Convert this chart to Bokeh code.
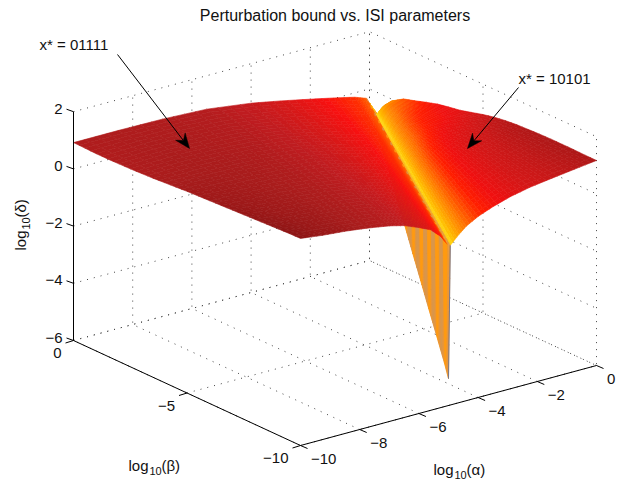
import numpy as np
from bokeh.plotting import figure
from bokeh.models import Range1d
from bokeh.core.properties import value
from bokeh.embed import file_html
from bokeh.resources import INLINE

# ---- data ----
alpha_ticks = [-10, -8, -6, -4, -2, 0]
beta_ticks = [0, -5, -10]
z_ticks = [-6, -4, -2, 0, 2]
title = "Perturbation bound vs. ISI parameters"
note_left = "x* = 01111"
note_right = "x* = 10101"

beta_rows = [0, -0.5, -1, -1.5, -2, -2.5, -3, -3.5, -4, -4.5, -5, -5.5, -6, -6.5, -7, -7.5, -8, -8.5, -9, -9.5, -10]
# columns: fraction of the way from alpha=-10 to the valley, then from the valley to alpha=0
left_frac = [0, .15, .3, .45, .6, .7, .8, .88, .95, .99]
right_frac = [.012, .07, .12, .2, .3, .42, .55, .7, .85, 1]

left_00 = [.92, .92, .90, .83, .62, .42, .20, .02, -.15, -.30]
left_05 = [.91, .93, .91, .84, .63, .43, .22, .03, -.14, -.30]
left_10 = [.90, .94, .92, .85, .64, .45, .23, .05, -.14, -.30]
left_15 = [.90, .95, .93, .85, .65, .46, .25, .06, -.13, -.31]
left_20 = [.91, .96, .93, .86, .66, .48, .26, .08, -.13, -.31]
left_25 = [.92, .97, .94, .86, .68, .49, .28, .09, -.12, -.31]
left_30 = [.94, .98, .95, .87, .69, .51, .29, .11, -.11, -.32]
left_35 = [.96, .99, .96, .88, .70, .52, .31, .12, -.11, -.32]
left_40 = [.99, 1.00, .97, .89, .71, .54, .32, .14, -.10, -.32]
left_45 = [1.02, 1.02, .98, .89, .72, .55, .34, .15, -.10, -.32]
left_50 = [1.05, 1.03, .98, .90, .73, .57, .35, .17, -.09, -.33]
left_55 = [1.07, 1.04, .99, .91, .74, .58, .37, .18, -.08, -.33]
left_60 = [1.09, 1.05, 1.00, .91, .75, .59, .38, .19, -.08, -.33]
left_65 = [1.11, 1.06, 1.01, .92, .76, .61, .40, .21, -.07, -.33]
left_70 = [1.13, 1.07, 1.02, .93, .77, .62, .41, .22, -.07, -.34]
left_75 = [1.15, 1.08, 1.03, .93, .79, .64, .43, .24, -.06, -.34]
left_80 = [1.17, 1.09, 1.04, .94, .80, .65, .44, .25, -.05, -.34]
left_85 = [1.19, 1.11, 1.05, .95, .81, .67, .46, .27, -.05, -.34]
left_90 = [1.21, 1.12, 1.05, .96, .82, .68, .47, .28, -.04, -.35]
left_95 = [1.23, 1.13, 1.06, .96, .83, .70, .49, .30, -.04, -.35]
left_100 = [1.24, 1.14, 1.07, .97, .84, .71, .50, .31, -.03, -.35]

valley = [-.5, -.72, -.95, -1.18, -1.4, -1.62, -1.85, -2.08, -2.3, -2.52, -2.75,
          -2.98, -3.2, -3.42, -3.65, -3.88, -4.1, -4.32, -4.55, -4.78, -5.06]

right_00 = [-.5, -.5, -.5, -.5, -.5, -.5, -.5, -.5, -.5, -.5]
right_05 = [-.72, -.74, -.76, -.78, -.80, -.82, -.83, -.84, -.85, -.86]
right_10 = [-.42, -.35, -.30, -.25, -.20, -.15, -.12, -.10, -.07, -.05]
right_15 = [-.42, -.30, -.22, -.13, -.05, .03, .08, .12, .16, .20]
right_20 = [-.42, -.28, -.18, -.07, .02, .11, .18, .22, .28, .32]
right_25 = [-.42, -.25, -.13, -.01, .10, .21, .28, .34, .40, .45]
right_30 = [-.42, -.23, -.09, .05, .17, .29, .38, .44, .51, .57]
right_35 = [-.42, -.22, -.07, .08, .22, .35, .45, .51, .59, .65]
right_40 = [-.42, -.20, -.04, .12, .26, .40, .50, .57, .65, .72]
right_45 = [-.42, -.18, -.01, .17, .33, .48, .59, .67, .76, .83]
right_50 = [-.42, -.16, .03, .22, .40, .56, .68, .76, .86, .94]
right_55 = [-.42, -.14, .06, .26, .45, .62, .75, .84, .94, 1.03]
right_60 = [-.42, -.13, .08, .29, .49, .67, .80, .89, 1.00, 1.09]
right_65 = [-.42, -.13, .09, .31, .51, .70, .84, .93, 1.04, 1.13]
right_70 = [-.42, -.12, .10, .32, .52, .71, .85, .95, 1.06, 1.15]
right_75 = [-.42, -.12, .10, .33, .53, .72, .87, .96, 1.07, 1.17]
right_80 = [-.42, -.12, .11, .33, .54, .73, .88, .97, 1.08, 1.18]
right_85 = [-.42, -.12, .11, .33, .54, .73, .88, .97, 1.08, 1.18]
right_90 = [-.42, -.12, .11, .33, .54, .73, .88, .97, 1.08, 1.18]
right_95 = [-.42, -.12, .10, .33, .53, .72, .87, .97, 1.07, 1.17]
right_100 = [-.42, -.12, .10, .33, .53, .72, .86, .97, 1.07, 1.17]

left_rows = [left_00, left_05, left_10, left_15, left_20, left_25, left_30, left_35, left_40, left_45, left_50,
             left_55, left_60, left_65, left_70, left_75, left_80, left_85, left_90, left_95, left_100]
right_rows = [right_00, right_05, right_10, right_15, right_20, right_25, right_30, right_35, right_40, right_45, right_50,
              right_55, right_60, right_65, right_70, right_75, right_80, right_85, right_90, right_95, right_100]

# surface colour against height, one ramp for each side of the valley
left_color_z = [-0.35, -0.15, 0.1, 0.4, 0.7, 1.0, 1.24]
left_color_rgb = [(255, 112, 0), (255, 48, 0), (248, 16, 16), (216, 24, 24), (192, 28, 32), (168, 28, 28), (140, 20, 20)]
right_color_z = [-1.0, -0.6, -0.45, -0.3, -0.1, 0.1, 0.25, 0.4, 0.6, 0.9, 1.2]
right_color_rgb = [(230, 150, 60), (255, 190, 20), (255, 225, 30), (255, 190, 0), (255, 150, 0), (255, 110, 0),
                   (255, 70, 0), (255, 30, 0), (240, 16, 16), (208, 24, 24), (170, 24, 24)]
wall_colors = ["#d8964c", "#ff9a10"]

# ---- view: page pixel of the axis box corners ----
ORIGIN = (73.0, 340.0)          # beta=0, alpha=-10, z=-6
PER_BETA = (22.7, 10.5)
PER_ALPHA = (29.6, -8.0)
PER_Z = 28.6


def proj(alpha, beta, z):
    a = np.asarray(alpha, float) + 10
    b = -np.asarray(beta, float)
    zz = np.asarray(z, float) + 6
    return (ORIGIN[0] + PER_BETA[0] * b + PER_ALPHA[0] * a,
            ORIGIN[1] + PER_BETA[1] * b + PER_ALPHA[1] * a - PER_Z * zz)


def to_hex(z, stops, rgb):
    vals = [np.interp(z, stops, [c[i] for c in rgb]) for i in range(3)]
    return "#%02x%02x%02x" % tuple(int(round(v)) for v in vals)


p = figure(width=624, height=483, output_backend="svg", toolbar_location=None,
           x_range=Range1d(0, 624), y_range=Range1d(483, 0), min_border=0, outline_line_color=None)
p.xaxis.visible = False
p.yaxis.visible = False
p.grid.visible = False
p.background_fill_color = "white"

# dotted grid on the three back planes
GRID = dict(line_color="#444444", line_width=1, line_dash="1 6")
for al in alpha_ticks:
    x, y = proj([al, al, al], [-10, 0, 0], [-6, -6, 2])
    p.line(x, y, **GRID)
for be in beta_ticks:
    x, y = proj([-10, 0, 0], [be, be, be], [-6, -6, 2])
    p.line(x, y, **GRID)
for zv in z_ticks:
    x, y = proj([-10, 0, 0], [0, 0, -10], [zv, zv, zv])
    p.line(x, y, **GRID)

# surface, painted back to front
alphas = []
heights = []
for i, be in enumerate(beta_rows):
    vb = be / 2
    row_a = [-10 + s * (vb + 10) for s in left_frac] + [vb] + [vb + t * (0 - vb) for t in right_frac]
    alphas.append(row_a)
    heights.append(left_rows[i] + [valley[i]] + right_rows[i])
alphas = np.array(alphas)
heights = np.array(heights)
betas = np.array(beta_rows)[:, None] * np.ones_like(alphas)
sx, sy = proj(alphas, betas, heights)
depth = -betas * PER_BETA[1] + (alphas + 10) * PER_ALPHA[1]

cells = []
nl = len(left_frac)
SHADE_J = 4
SHADE_I = 2


def blend(m, i, j, u, v):
    return ((1 - v) * ((1 - u) * m[i, j] + u * m[i, j + 1]) + v * ((1 - u) * m[i + 1, j] + u * m[i + 1, j + 1]))


for i in range(alphas.shape[0] - 1):
    for j in range(alphas.shape[1] - 1):
        key = depth[i:i + 2, j:j + 2].mean()
        if j == nl - 1:   # left wall of the valley
            col = wall_colors[i % 2]
            cells.append((key, [sx[i, j], sx[i, j + 1], sx[i + 1, j + 1], sx[i + 1, j]],
                          [sy[i, j], sy[i, j + 1], sy[i + 1, j + 1], sy[i + 1, j]], col))
            continue
        # smooth shading of a cell: same outline, several colour steps
        stops, rgb = (left_color_z, left_color_rgb) if j < nl - 1 else (right_color_z, right_color_rgb)
        for vi in range(SHADE_I):
            for ui in range(SHADE_J):
                us = [ui / SHADE_J, (ui + 1) / SHADE_J]
                vs = [vi / SHADE_I, (vi + 1) / SHADE_I]
                corners = [(us[0], vs[0]), (us[1], vs[0]), (us[1], vs[1]), (us[0], vs[1])]
                xs = [blend(sx, i, j, u, v) for u, v in corners]
                ys = [blend(sy, i, j, u, v) for u, v in corners]
                zm = np.mean([blend(heights, i, j, u, v) for u, v in corners])
                dk = np.mean([blend(depth, i, j, u, v) for u, v in corners])
                cells.append((dk, xs, ys, to_hex(zm, stops, rgb)))
cells.sort(key=lambda c: c[0])
p.patches([c[1] for c in cells], [c[2] for c in cells], fill_color=[c[3] for c in cells],
          line_color=[c[3] for c in cells], line_width=0.6)

# nearest mesh line of the valley wall
x, y = proj([beta_rows[-1] / 2, beta_rows[-1] / 2 * (1 - right_frac[0])], [beta_rows[-1]] * 2, [valley[-1], right_rows[-1][0]])
p.line(x, y, line_color="#77778a", line_width=1)

# solid axes and ticks
x, y = proj([-10, -10, -10, 0], [0, 0, -10, -10], [2, -6, -6, -6])
p.line(x, y, line_color="black", line_width=1)
x0, y0 = proj([-10] * len(z_ticks), [0] * len(z_ticks), z_ticks)
p.segment(x0, y0, x0 - 7, y0 - 2.5, line_color="black")
x0, y0 = proj([-10] * len(beta_ticks), beta_ticks, [-6] * len(beta_ticks))
p.segment(x0, y0, x0 - 8, y0 + 2.5, line_color="black")
x1, y1 = proj(alpha_ticks, [-10] * len(alpha_ticks), [-6] * len(alpha_ticks))
p.segment(x1, y1, x1 + 7, y1 + 3, line_color="black")

FONT = value("Liberation Sans")


def label(x, y, s, size=15, align="left", base="middle", angle=0.0):
    p.text([x], [y], text=[s], text_font=FONT, text_font_size=value(f"{size}px"), text_align=align,
           text_baseline=base, text_color="#111111", angle=angle)


for zv, xv, yv in zip(z_ticks, *proj([-10] * len(z_ticks), [0] * len(z_ticks), z_ticks)):
    label(xv - 11, yv - 3, str(zv).replace("-", "\u2212"), align="right")
for be, xv, yv in zip(beta_ticks, *proj([-10] * len(beta_ticks), beta_ticks, [-6] * len(beta_ticks))):
    label(xv - 12, yv + 12.5, str(be).replace("-", "\u2212"), align="right")
for al, xv, yv in zip(alpha_ticks, *proj(alpha_ticks, [-10] * len(alpha_ticks), [-6] * len(alpha_ticks))):
    label(xv + 10.5, yv + 13.5, str(al).replace("-", "\u2212"))

label(334.5, 15, title, size=16, align="center")
label(39, 44, note_left)
label(518, 78, note_right)


def log_label(x, y, sym):
    label(x, y, "log")
    label(x + 21, y + 5, "10", size=11)
    label(x + 33, y, f"({sym})")


log_label(128, 465, "\u03b2")
log_label(433, 469, "\u03b1")
# rotated label of the vertical axis
label(20, 250, "log", angle=np.pi / 2)
label(25, 229, "10", size=11, angle=np.pi / 2)
label(20, 217, "(\u03b4)", angle=np.pi / 2)


def arrow(x0, y0, x1, y1):
    d = np.array([x1 - x0, y1 - y0], float)
    d /= np.hypot(*d)
    n = np.array([-d[1], d[0]])
    tip = np.array([x1, y1])
    back = tip - d * 15
    mid = tip - d * 10
    p.line([x0, mid[0]], [y0, mid[1]], line_color="black", line_width=1)
    pts = [tip, back + n * 6, mid, back - n * 6]
    p.patch([q[0] for q in pts], [q[1] for q in pts], fill_color="black", line_color="black", line_width=0.5)


arrow(117, 54, 189, 148)
arrow(518, 87, 467, 148)

open("out.html", "w").write(file_html(p, INLINE))
